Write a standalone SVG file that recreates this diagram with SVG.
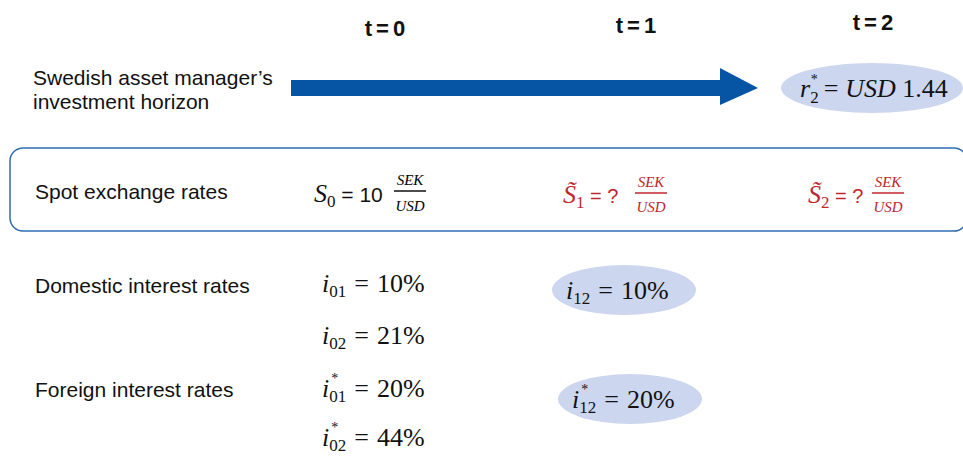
<svg xmlns="http://www.w3.org/2000/svg" width="963" height="456" viewBox="0 0 963 456">
<style>
.lbl{font-family:"Liberation Sans",Arial,sans-serif;font-size:21px;fill:#111}
.hd{font-family:"Liberation Sans",Arial,sans-serif;font-size:22px;font-weight:bold;fill:#111;letter-spacing:4px}
.m{font-family:"Liberation Serif","Times New Roman",serif;font-size:26px;fill:#111}
.mi{font-style:italic}
.sub{font-size:17px}
.st{font-size:14px}
.fr{font-family:"Liberation Serif","Times New Roman",serif;font-style:italic;font-size:15px}
.red{fill:#C0272D}
.oval{fill:#CDD6EF}
</style>
<rect width="963" height="456" fill="#fff"/>
<g id="headers">
<text class="hd" x="387" y="36" text-anchor="middle">t=0</text>
<text class="hd" x="638" y="33" text-anchor="middle">t=1</text>
<text class="hd" x="875" y="30" text-anchor="middle">t=2</text>
</g>
<g id="horizon-label">
<text class="lbl" x="33" y="85">Swedish asset manager’s</text>
<text class="lbl" x="33" y="109">investment horizon</text>
</g>
<g id="connectors">
<polygon points="291,80 720,80 720,68 758,88 720,105 720,96 291,96" fill="#0654A4"/>
</g>
<g id="r2">
<ellipse class="oval" cx="872" cy="88" rx="91" ry="25"/>
<text class="m" x="800" y="97" font-size="25"><tspan class="mi">r</tspan><tspan class="sub" dy="6">2</tspan><tspan class="st" dx="-8" dy="-19">*</tspan><tspan dx="6" dy="13">=</tspan><tspan class="mi" dx="7">USD</tspan> 1.44</text>
</g>
<g id="spot">
<rect x="10" y="148" width="957" height="83" rx="13" fill="none" stroke="#2E6DB4" stroke-width="1.5"/>
<text class="lbl" x="35" y="199">Spot exchange rates</text>
<text class="m" x="314" y="202"><tspan class="mi">S</tspan><tspan class="sub" dy="5">0</tspan><tspan dy="-5" font-family="Liberation Sans" font-size="21"> = 10</tspan></text>
<text class="fr" x="410" y="185" text-anchor="middle">SEK</text>
<line x1="394" y1="191" x2="426" y2="191" stroke="#111" stroke-width="1.5"/>
<text class="fr" x="410" y="211" text-anchor="middle">USD</text>
<g class="red">
<text class="m red" x="563" y="203"><tspan class="mi">S&#x303;</tspan><tspan class="sub" dy="5">1</tspan><tspan dy="-5" font-family="Liberation Sans" font-size="20"> = ?</tspan></text>
<text class="fr red" x="651" y="187" text-anchor="middle">SEK</text>
<line x1="635" y1="193" x2="667" y2="193" stroke="#C0272D" stroke-width="1.5"/>
<text class="fr red" x="651" y="212" text-anchor="middle">USD</text>
<text class="m red" x="808" y="203"><tspan class="mi">S&#x303;</tspan><tspan class="sub" dy="5">2</tspan><tspan dy="-5" font-family="Liberation Sans" font-size="20"> = ?</tspan></text>
<text class="fr red" x="888" y="187" text-anchor="middle">SEK</text>
<line x1="872" y1="193" x2="904" y2="193" stroke="#C0272D" stroke-width="1.5"/>
<text class="fr red" x="888" y="212" text-anchor="middle">USD</text>
</g>
</g>
<g id="domestic">
<text class="lbl" x="35" y="293">Domestic interest rates</text>
<text class="m" x="322" y="292"><tspan class="mi">i</tspan><tspan class="sub" dy="5">01</tspan><tspan dx="8" dy="-5">=</tspan><tspan dx="8">10%</tspan></text>
<text class="m" x="322" y="344"><tspan class="mi">i</tspan><tspan class="sub" dy="5">02</tspan><tspan dx="8" dy="-5">=</tspan><tspan dx="8">21%</tspan></text>
</g>
<g id="i12">
<ellipse class="oval" cx="624" cy="290" rx="72" ry="25"/>
<text class="m" x="566" y="299"><tspan class="mi">i</tspan><tspan class="sub" dy="5">12</tspan><tspan dx="8" dy="-5">=</tspan><tspan dx="8">10%</tspan></text>
</g>
<g id="foreign">
<text class="lbl" x="35" y="397">Foreign interest rates</text>
<text class="m" x="322" y="397"><tspan class="mi">i</tspan><tspan class="sub" dy="5">01</tspan><tspan class="st" dx="-15" dy="-19">*</tspan><tspan dx="16" dy="14">=</tspan><tspan dx="8">20%</tspan></text>
<text class="m" x="322" y="446"><tspan class="mi">i</tspan><tspan class="sub" dy="5">02</tspan><tspan class="st" dx="-15" dy="-19">*</tspan><tspan dx="16" dy="14">=</tspan><tspan dx="8">44%</tspan></text>
</g>
<g id="i12star">
<ellipse class="oval" cx="630" cy="399" rx="72" ry="25"/>
<text class="m" x="572" y="408"><tspan class="mi">i</tspan><tspan class="sub" dy="5">12</tspan><tspan class="st" dx="-15" dy="-19">*</tspan><tspan dx="16" dy="14">=</tspan><tspan dx="8">20%</tspan></text>
</g>
</svg>
